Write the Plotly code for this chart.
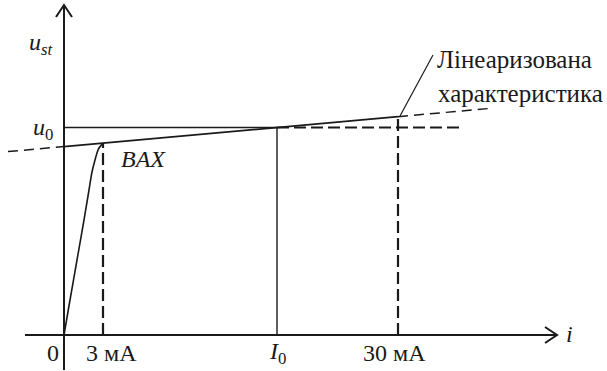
import plotly.graph_objects as go

# Schematic coordinates: current on x, stabilisation voltage on y (arbitrary units)
X_RANGE = [-0.64, 5.43]
Y_RANGE = [-0.36, 3.35]

# Currents marked on the i axis
I_3MA = 0.39
I_0 = 2.13
I_30MA = 3.34
tick_i = [0.0, I_3MA, I_0, I_30MA]
tick_text = ["0", "3 мА", "<i>I</i><sub>0</sub>", "30 мА"]
# horizontal nudge of each tick label relative to its current
tick_dx = [-0.115, 0.08, 0.0, -0.035]

# Voltage at the operating point and slope of the linearised model
U_0 = 2.075
R_D = 0.0896

# Rising branch of the measured characteristic (ВАХ) up to the knee
bax_i = [0.0, 0.06, 0.13, 0.20, 0.25, 0.28, 0.31, 0.33, 0.35, 0.39]
bax_u = [0.0, 0.35, 0.75, 1.15, 1.45, 1.63, 1.75, 1.82, 1.87, 1.919]

# Extents of the linearised characteristic and of the u0 reference line
lin_left, lin_right = -0.56, 4.24
u0_right = 3.99

# Axis extents
x_axis = [-0.39, 4.93]
y_axis = [-0.35, 3.30]

# Leader line to the caption of the linearised characteristic
leader_i = [3.36, 3.69]
leader_u = [2.19, 2.80]


def lin(i):
    return U_0 + R_D * (i - I_0)


BLACK = "#1a1a1a"
FONT = '"Liberation Serif", "Times New Roman", Times, serif'
DASH = "12px,5px"

fig = go.Figure()


def seg(xs, ys, width=1.3, dash="solid", shape="linear"):
    fig.add_trace(go.Scatter(
        x=xs, y=ys, mode="lines", hoverinfo="skip", showlegend=False,
        line=dict(color=BLACK, width=width, dash=dash, shape=shape),
    ))


# Coordinate axes with open arrowheads
seg(x_axis, [0, 0], width=2)
seg([0, 0], y_axis, width=2)
seg([x_axis[1] - 0.12, x_axis[1], x_axis[1] - 0.12], [0.08, 0, -0.08], width=2)
seg([-0.08, 0, 0.08], [y_axis[1] - 0.12, y_axis[1], y_axis[1] - 0.12], width=2)

# u0 level: solid up to I0, dashed beyond
seg([0, I_0], [U_0, U_0], width=1.4)
seg([I_0, u0_right], [U_0, U_0], width=2, dash=DASH)

# Linearised characteristic: dashed outside the working range, solid inside
seg([lin_left, 0], [lin(lin_left), lin(0)], width=1.5, dash="10px,6px")
seg([0, I_30MA], [lin(0), lin(I_30MA)], width=1.8)
seg([I_30MA, lin_right], [lin(I_30MA), lin(lin_right)], width=1.5, dash="10px,6px")

# Measured characteristic
seg(bax_i, bax_u, width=1.6, shape="spline")

# Verticals at the marked currents
seg([I_3MA, I_3MA], [0, lin(I_3MA)], width=2.2, dash=DASH)
seg([I_0, I_0], [0, U_0], width=1.4)
seg([I_30MA, I_30MA], [0, lin(I_30MA)], width=2.2, dash=DASH)

# Leader line
seg(leader_i, leader_u, width=1.2)

annotations = []


def label(x, y, text, size=24, xanchor="center", yanchor="middle"):
    annotations.append(dict(
        x=x, y=y, xref="x", yref="y", text=text, showarrow=False,
        xanchor=xanchor, yanchor=yanchor,
        font=dict(family=FONT, size=size, color=BLACK),
    ))


# Tick labels under the i axis
for xi, dx, txt in zip(tick_i, tick_dx, tick_text):
    label(xi + dx, -0.18, txt)

label(5.05, 0.01, "<i>i</i>")
label(-0.09, 2.91, "<i>u</i><sub><i>st</i></sub>", xanchor="right")
label(-0.09, 2.06, "<i>u</i><sub>0</sub>", xanchor="right")
label(0.55, 1.76, "<i>BAX</i>", xanchor="left")
label(3.71, 2.76, "Лінеаризована", size=25, xanchor="left")
label(3.72, 2.42, "характеристика", size=25, xanchor="left")

fig.update_layout(
    width=607, height=371,
    margin=dict(l=0, r=0, t=0, b=0),
    paper_bgcolor="white", plot_bgcolor="white",
    font=dict(family=FONT),
    xaxis=dict(range=X_RANGE, visible=False, fixedrange=True),
    yaxis=dict(range=Y_RANGE, visible=False, fixedrange=True),
    annotations=annotations,
    showlegend=False,
)

fig.write_html("out.html")
